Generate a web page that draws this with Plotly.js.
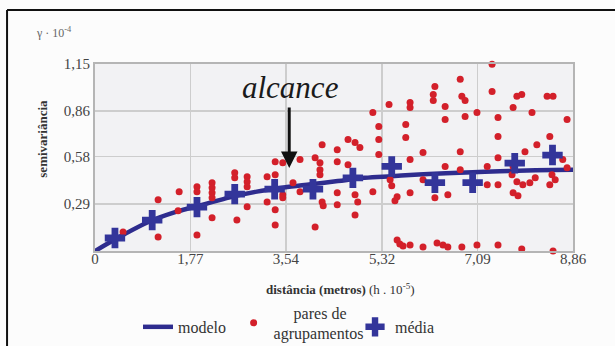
<!DOCTYPE html>
<html>
<head>
<meta charset="utf-8">
<script src="https://cdn.plot.ly/plotly-3.0.1.min.js"></script>
<style>html,body{margin:0;padding:0;background:#fcfcfc;}#chart{width:615px;height:346px;}</style>
</head>
<body>
<div id="chart"></div>
<script>
// Model curve
const modelX = [0, 0.5, 1.0, 1.5, 2.0, 2.5, 3.0, 3.5, 4.0, 4.5, 5.0, 5.5, 6.0, 6.5, 7.0, 7.5, 8.0, 8.5, 8.86];
const modelY = [0, 0.095, 0.18, 0.24, 0.285, 0.33, 0.365, 0.39, 0.41, 0.43, 0.45, 0.46, 0.47, 0.478, 0.485, 0.49, 0.495, 0.498, 0.50];

// Mean values (crosses)
const meanX = [0.37, 1.06, 1.89, 2.59, 3.33, 4.04, 4.78, 5.5, 6.3, 7.0, 7.78, 8.48];
const meanY = [0.08, 0.19, 0.27, 0.35, 0.38, 0.38, 0.45, 0.52, 0.42, 0.42, 0.54, 0.59];

// Pairs (red dots)
const pairsX = [0.52,1.17,1.17,1.56,1.54,1.89,1.89,1.89,2.17,2.17,2.17,2.17,2.17,2.59,2.59,2.82,2.82,2.82,2.82,2.63,
 3.19,3.19,3.34,3.34,3.48,3.67,3.80,3.34,3.34,3.48,3.80,3.48,4.08,4.17,4.17,4.17,4.21,4.08,4.21,4.23,
 4.49,4.49,4.49,4.49,4.69,4.82,4.91,4.69,4.82,4.87,4.82,5.15,5.15,5.26,5.26,5.26,5.45,5.47,5.50,5.60,
 5.56,5.76,5.76,5.84,5.84,5.84,5.84,6.08,6.08,6.30,6.27,6.27,6.49,6.49,6.49,6.30,6.54,6.77,6.80,6.86,
 6.86,6.77,6.77,7.08,7.36,7.36,7.47,7.47,7.47,7.27,7.27,7.47,7.82,7.91,7.75,8.10,7.75,7.97,7.73,7.82,
 7.93,8.06,8.16,7.75,7.84,8.19,8.38,8.49,8.43,8.75,8.47,8.53,8.43,8.67,8.75,
 5.60,5.65,5.71,5.84,6.08,6.34,6.45,6.54,6.80,7.08,7.47,7.91,8.49];
const pairsY = [0.117,0.315,0.086,0.364,0.247,0.395,0.364,0.099,0.42,0.389,0.358,0.327,0.204,0.481,0.451,0.457,0.426,0.395,0.272,0.191,
 0.457,0.302,0.253,0.16,0.346,0.42,0.364,0.549,0.469,0.543,0.562,0.327,0.574,0.543,0.5,0.469,0.654,0.148,0.302,0.278,
 0.623,0.549,0.358,0.284,0.685,0.667,0.636,0.531,0.346,0.302,0.222,0.364,0.852,0.765,0.685,0.593,0.901,0.438,0.401,0.333,
 0.309,0.778,0.698,0.914,0.883,0.562,0.358,0.605,0.438,1.012,0.963,0.926,0.889,0.809,0.519,0.327,0.346,1.056,0.951,0.926,
 0.827,0.611,0.5,0.852,1.148,0.981,0.821,0.704,0.574,0.519,0.407,0.407,0.951,0.963,0.883,0.852,0.519,0.611,0.469,0.426,
 0.407,0.42,0.451,0.358,0.34,0.654,0.951,0.951,0.704,0.809,0.469,0.438,0.407,0.562,0.512,
 0.068,0.043,0.031,0.037,0.025,0.049,0.037,0.025,0.025,0.037,0.037,0.012,0.0];

const xTickVals = [0, 1.77, 3.54, 5.32, 7.09, 8.86];
const xTickText = ['0', '1,77', '3,54', '5,32', '7,09', '8,86'];
const yTickVals = [0.29, 0.58, 0.86, 1.15];
const yTickText = ['0,29', '0,58', '0,86', '1,15'];

const serif = "Liberation Serif";

const traces = [
  {x: modelX, y: modelY, type: 'scatter', mode: 'lines', name: 'modelo', legend: 'legend',
   line: {color: '#2e2c8e', width: 4.5, shape: 'spline'}, cliponaxis: false},
  {x: pairsX, y: pairsY, type: 'scatter', mode: 'markers', name: '&nbsp;&nbsp;&nbsp;&nbsp;&nbsp;pares de<br>agrupamentos', legend: 'legend2',
   marker: {color: '#d3202a', size: 7}, cliponaxis: false},
  {x: meanX, y: meanY, type: 'scatter', mode: 'markers', name: 'média', legend: 'legend3',
   marker: {color: '#33359a', size: 17, symbol: 'cross'}, cliponaxis: false}
];

const legFont = {family: serif, size: 16, color: '#333'};
const legBase = {xanchor: 'left', yanchor: 'middle', font: legFont, bgcolor: 'rgba(0,0,0,0)', valign: 'middle', itemwidth: 30};

const layout = {
  width: 615, height: 346,
  margin: {l: 95, r: 42, t: 64, b: 95, autoexpand: false},
  paper_bgcolor: '#fcfcfc',
  plot_bgcolor: '#f2f2f4',
  font: {family: serif, color: '#444', size: 13},
  showlegend: true,
  legend: Object.assign({}, legBase, {x: 0.09, y: -0.406}),
  legend2: Object.assign({}, legBase, {x: 0.29, y: -0.385}),
  legend3: Object.assign({}, legBase, {x: 0.544, y: -0.406}),
  xaxis: {range: [0, 8.86], tickvals: xTickVals, ticktext: xTickText,
          showgrid: true, gridcolor: '#cdcdcd', gridwidth: 1.5,
          zeroline: false, showline: true, linecolor: '#b5b5b5', linewidth: 2, mirror: true,
          ticks: '', ticklabelstandoff: -7,
          tickfont: {family: serif, size: 15, color: '#444'}, fixedrange: true},
  yaxis: {range: [0, 1.15], tickvals: yTickVals, ticktext: yTickText,
          showgrid: true, gridcolor: '#cdcdcd', gridwidth: 1.5,
          zeroline: false, showline: true, linecolor: '#b5b5b5', linewidth: 2, mirror: true,
          ticks: '', tickfont: {family: serif, size: 15, color: '#444'}, fixedrange: true},
  annotations: [
    {xref: 'paper', yref: 'paper', x: -0.109, y: 0.60, xanchor: 'center', yanchor: 'middle',
     text: '<b>semivariância</b>', textangle: -90,
     showarrow: false, font: {family: serif, size: 13, color: '#333'}},
    {xref: 'paper', yref: 'paper', x: -0.086, y: 1.166, xanchor: 'center', yanchor: 'middle',
     text: 'γ · 10<sup>-4</sup>',
     showarrow: false, font: {family: serif, size: 12, color: '#666'}},
    {xref: 'paper', yref: 'paper', x: 0.513, y: -0.205, xanchor: 'center', yanchor: 'middle',
     text: '<b>distância (metros)</b> (h . 10<sup>-5</sup>)',
     showarrow: false, font: {family: serif, size: 13, color: '#333'}},
    {xref: 'paper', yref: 'paper', x: 0.408, y: 0.877, xanchor: 'center', yanchor: 'middle',
     text: '<i>alcance</i>',
     showarrow: false, font: {family: serif, size: 31, color: '#1a1a1a'}},
    {xref: 'x', yref: 'y', x: 3.6, y: 0.51, ax: 0, ay: -62, text: '', showarrow: true,
     arrowhead: 2, arrowsize: 1.1, arrowwidth: 3, arrowcolor: '#111'}
  ],
  shapes: [
    {type: 'line', xref: 'paper', yref: 'paper', x0: -0.184, x1: 1.1, y0: 1.289, y1: 1.289,
     line: {color: '#111', width: 2}},
    {type: 'line', xref: 'paper', yref: 'paper', x0: -0.184, x1: -0.184, y0: 1.289, y1: -0.52,
     line: {color: '#111', width: 2}}
  ]
};

Plotly.newPlot('chart', traces, layout, {displayModeBar: false, staticPlot: true});
</script>
</body>
</html>
